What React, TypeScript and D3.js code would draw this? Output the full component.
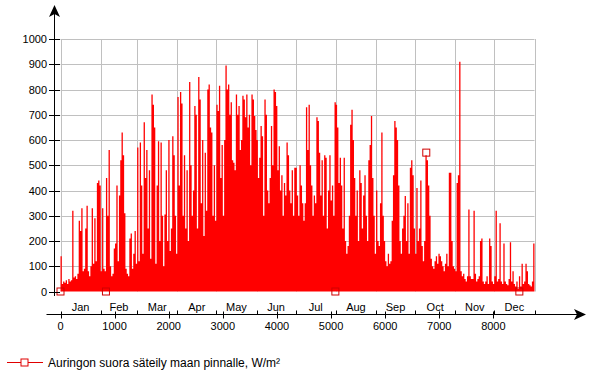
import React from 'react';
import * as d3 from 'd3';

// daily peak of direct solar radiation, W/m²
const jan = [140, 30, 40, 35, 45, 30, 50, 40, 45, 320, 55, 60, 50, 70, 280, 240, 330, 80, 90, 250, 340, 80, 60, 100, 330, 110, 290, 120, 430, 440, 420];
const feb = [80, 330, 90, 80, 450, 300, 560, 100, 60, 70, 170, 190, 420, 120, 380, 520, 630, 540, 310, 90, 70, 60, 210, 230, 90, 150, 240, 110];
const mar = [570, 120, 590, 420, 150, 670, 450, 560, 250, 480, 130, 780, 740, 650, 110, 420, 595, 200, 590, 300, 100, 305, 480, 200, 600, 160, 250, 615, 540, 300, 150];
const apr = [770, 420, 790, 745, 300, 540, 250, 480, 200, 830, 500, 300, 400, 735, 700, 250, 850, 760, 350, 600, 220, 550, 320, 800, 820, 650, 630, 300, 500, 280];
const may = [740, 715, 815, 450, 580, 300, 600, 895, 800, 820, 700, 750, 520, 510, 480, 780, 700, 735, 560, 600, 775, 760, 690, 780, 650, 700, 500, 780, 760, 695, 640];
const jun = [600, 450, 530, 655, 615, 300, 760, 700, 400, 350, 450, 655, 500, 800, 790, 735, 480, 575, 400, 460, 300, 430, 380, 590, 540, 400, 350, 480, 300, 490];
const jul = [490, 380, 300, 500, 420, 350, 280, 350, 730, 560, 740, 500, 420, 300, 380, 350, 690, 675, 550, 380, 520, 300, 540, 530, 250, 400, 540, 360, 420, 300, 750];
const aug = [740, 650, 430, 530, 420, 250, 530, 200, 150, 180, 300, 660, 720, 600, 450, 300, 400, 200, 480, 430, 250, 380, 460, 300, 200, 520, 580, 695, 450, 300, 150];
const sep = [400, 200, 180, 350, 630, 300, 200, 120, 100, 150, 110, 120, 280, 460, 675, 650, 600, 420, 200, 150, 250, 300, 378, 200, 350, 150, 490, 520, 460, 250];
const oct = [150, 410, 200, 250, 440, 180, 120, 200, 540, 520, 420, 300, 130, 100, 90, 120, 140, 110, 150, 140, 120, 100, 80, 110, 150, 100, 470, 470, 200, 100, 90];
const nov = [80, 430, 460, 910, 80, 60, 70, 50, 40, 60, 325, 60, 50, 50, 320, 70, 40, 50, 60, 200, 210, 40, 30, 40, 60, 30, 210, 180, 40, 30];
const dec = [60, 320, 40, 50, 270, 40, 30, 190, 40, 30, 25, 50, 195, 40, 80, 30, 20, 40, 10, 60, 20, 110, 30, 40, 110, 80, 30, 25, 20, 40, 190];

const monthNames = ['Jan', 'Feb', 'Mar', 'Apr', 'May', 'Jun', 'Jul', 'Aug', 'Sep', 'Oct', 'Nov', 'Dec'];
const hourTicks = [0, 1000, 2000, 3000, 4000, 5000, 6000, 7000, 8000];
const valueTicks = [0, 100, 200, 300, 400, 500, 600, 700, 800, 900, 1000];
const markerHours = [0, 840, 5080, 6760, 8480];
const markerValues = [0, 0, 0, 550, 0];
const seriesName = 'Auringon suora säteily maan pinnalle, W/m²';

const months = [jan, feb, mar, apr, may, jun, jul, aug, sep, oct, nov, dec];
const daily = months.flat();

const font = 'Arial, "Liberation Sans", sans-serif';

export default function App() {
  const x = d3.scaleLinear().domain([0, 8760]).range([60.5, 534.5]);
  const y = d3.scaleLinear().domain([0, 1000]).range([291.5, 39]);

  // month boundaries in hours
  const bounds = [0];
  months.forEach((m, i) => bounds.push(bounds[i] + m.length * 24));

  const pts: [number, number][] = daily.map((v, i) => [i * 24, v]);
  pts.push([8760, daily[daily.length - 1]]);
  const area = d3
    .area<[number, number]>()
    .x(d => x(d[0]))
    .y0(y(0))
    .y1(d => y(d[1]))
    .curve(d3.curveStepAfter);

  const axisY = 314.5;

  return (
    <svg
      width={591}
      height={372}
      style={{ position: 'absolute', left: 0, top: 0, background: '#fff' }}
      fontFamily={font}
      fontSize={11}
    >
      {/* grid */}
      {valueTicks.slice(1).map(v => (
        <line key={'h' + v} x1={x(0)} x2={x(8760)} y1={Math.round(y(v)) + 0.5} y2={Math.round(y(v)) + 0.5} stroke="#c0c0c0" />
      ))}
      {bounds.map(h => (
        <line key={'v' + h} x1={Math.round(x(h)) + 0.5} x2={Math.round(x(h)) + 0.5} y1={y(1000)} y2={y(0)} stroke="#c0c0c0" />
      ))}

      {/* series */}
      <path d={area(pts) || ''} fill="#ff0000" />
      {markerHours.map((h, i) => (
        <rect key={'m' + i} x={x(h) - 3.5} y={y(markerValues[i]) - 3.5} width={7} height={7} fill="none" stroke="#d00000" />
      ))}

      {/* y axis */}
      <line x1={54.5} x2={54.5} y1={296} y2={12} stroke="#000" />
      <path d="M54.5,5 L60,17 L54.5,14 L49,17 Z" fill="#000" />
      {valueTicks.map(v => (
        <g key={'yt' + v}>
          <line x1={49} x2={60} y1={Math.round(y(v)) + 0.5} y2={Math.round(y(v)) + 0.5} stroke="#000" />
          <text x={47} y={y(v) + 4} textAnchor="end" fill="#000">
            {v}
          </text>
        </g>
      ))}

      {/* x axis */}
      <line x1={46.5} x2={580} y1={axisY} y2={axisY} stroke="#000" />
      <path d={`M586,${axisY} L574,${axisY - 5.5} L577,${axisY} L574,${axisY + 5.5} Z`} fill="#000" />
      {bounds.slice(1).map(h => (
        <line key={'mt' + h} x1={Math.round(x(h)) + 0.5} x2={Math.round(x(h)) + 0.5} y1={axisY - 4} y2={axisY} stroke="#000" />
      ))}
      {monthNames.map((n, i) => (
        <text key={n} x={x((bounds[i] + bounds[i + 1]) / 2)} y={311} textAnchor="middle" fill="#000">
          {n}
        </text>
      ))}
      {hourTicks.map(h => (
        <g key={'xt' + h}>
          <line x1={Math.round(x(h)) + 0.5} x2={Math.round(x(h)) + 0.5} y1={axisY - 3} y2={axisY + 4} stroke="#000" />
          <text x={x(h)} y={329.5} textAnchor="middle" fill="#000">
            {h}
          </text>
        </g>
      ))}

      {/* legend */}
      <line x1={7} x2={43} y1={362.5} y2={362.5} stroke="#e00000" />
      <rect x={21} y={359} width={7} height={7} fill="#fff" stroke="#e00000" />
      <text x={48} y={366.5} fill="#000" fontSize={12}>
        {seriesName}
      </text>
    </svg>
  );
}
